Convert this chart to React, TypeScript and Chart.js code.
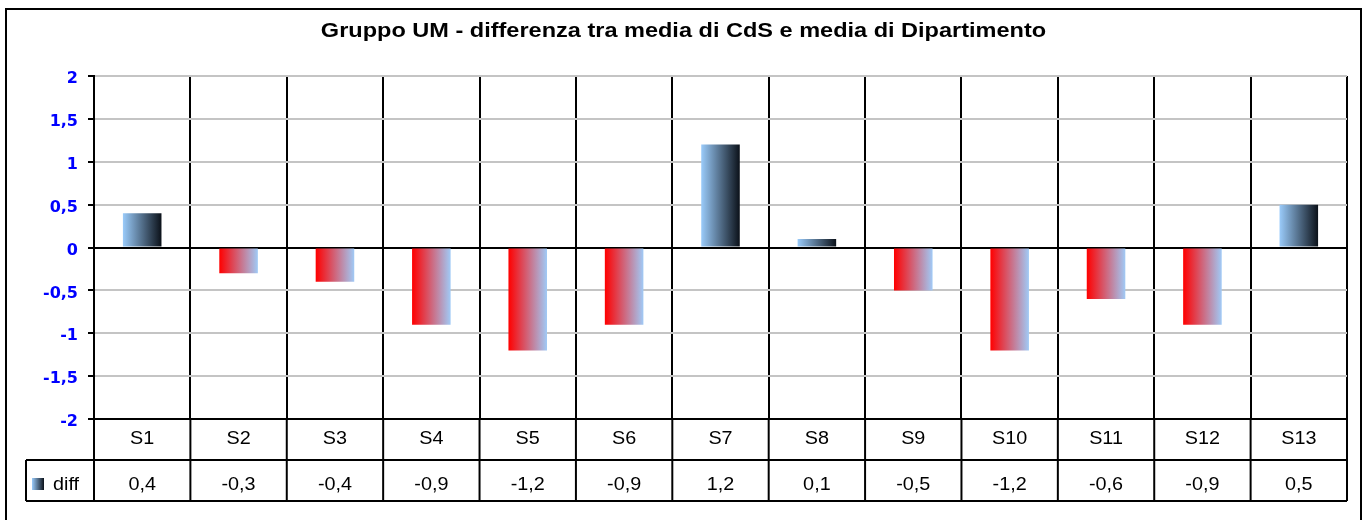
import React, { useEffect, useRef } from "react";
import { Chart, registerables } from "chart.js";

Chart.register(...registerables);

const TITLE = "Gruppo UM - differenza tra media di CdS e media di Dipartimento";
const CATEGORIES = ["S1", "S2", "S3", "S4", "S5", "S6", "S7", "S8", "S9", "S10", "S11", "S12", "S13"];
const SERIES_NAME = "diff";
const DIFF_VALUES = [0.4, -0.3, -0.4, -0.9, -1.2, -0.9, 1.2, 0.1, -0.5, -1.2, -0.6, -0.9, 0.5];
const Y_MIN = -2;
const Y_MAX = 2;
const Y_STEP = 0.5;

const fmt = (v: number) => String(Math.round(v * 10) / 10).replace(".", ",");

const POS_STOPS = ["#9ACBFA", "#0B1119"];
const NEG_STOPS = ["#FF0000", "#A0CAF6"];
const BAR_PCT = 0.4;
const TABLE_ROW = 41;
const TABLE_LEFT = 26;
const TABLE_STRETCH = 1.1;
const TITLE_STRETCH = 1.12;
const TABLE_FONT = "18px 'Liberation Sans', Arial, sans-serif";
const TITLE_FONT = "bold 21px 'Liberation Sans', Arial, sans-serif";

function stretchedText(
  ctx: CanvasRenderingContext2D,
  text: string,
  x: number,
  y: number,
  align: CanvasTextAlign,
  k: number
) {
  ctx.save();
  ctx.translate(x, y);
  ctx.scale(k, 1);
  ctx.textAlign = align;
  ctx.fillText(text, 0, 0);
  ctx.restore();
}

const titlePlugin = {
  id: "stretchedTitle",
  afterDraw(chart: any) {
    const ctx = chart.ctx as CanvasRenderingContext2D;
    ctx.save();
    ctx.fillStyle = "#000";
    ctx.font = TITLE_FONT;
    ctx.textBaseline = "alphabetic";
    stretchedText(ctx, TITLE, 683.5, 36.5, "center", TITLE_STRETCH);
    ctx.restore();
  },
};

const tablePlugin = {
  id: "dataTable",
  afterDraw(chart: any) {
    const ctx = chart.ctx as CanvasRenderingContext2D;
    const area = chart.chartArea;
    const xs = chart.scales.x;
    const n = CATEGORIES.length;
    const cw = (area.right - area.left) / n;
    const top = area.bottom;
    const mid = top + TABLE_ROW;
    const bot = top + TABLE_ROW * 2;
    ctx.save();
    ctx.strokeStyle = "#000";
    ctx.lineWidth = 2;
    const line = (x1: number, y1: number, x2: number, y2: number) => {
      ctx.beginPath();
      ctx.moveTo(x1, y1);
      ctx.lineTo(x2, y2);
      ctx.stroke();
    };
    for (let i = 0; i <= n; i++) {
      const xx = area.left + i * cw;
      line(xx, top, xx, bot);
    }
    line(TABLE_LEFT, mid, area.right, mid);
    line(TABLE_LEFT, bot, area.right, bot);
    line(TABLE_LEFT, mid, TABLE_LEFT, bot);

    ctx.fillStyle = "#000";
    ctx.font = TABLE_FONT;
    ctx.textBaseline = "alphabetic";
    CATEGORIES.forEach((c, i) => {
      const cx = xs.getPixelForValue(i);
      stretchedText(ctx, c, cx, top + 24.5, "center", TABLE_STRETCH);
      stretchedText(ctx, fmt(DIFF_VALUES[i]), cx, mid + 30, "center", TABLE_STRETCH);
    });
    // legend key
    const g = ctx.createLinearGradient(32, 0, 44, 0);
    g.addColorStop(0, POS_STOPS[0]);
    g.addColorStop(1, POS_STOPS[1]);
    ctx.fillStyle = g;
    ctx.fillRect(32, mid + 18, 12, 12);
    ctx.fillStyle = "#000";
    stretchedText(ctx, SERIES_NAME, 53, mid + 30, "left", TABLE_STRETCH);

    // outer frame
    ctx.lineWidth = 2;
    ctx.strokeRect(6, 9, 1355, 530);
    ctx.restore();
  },
};

export default function App() {
  const ref = useRef<HTMLCanvasElement | null>(null);
  useEffect(() => {
    document.body.style.margin = "0";
    const canvas = ref.current!;
    const n = CATEGORIES.length;
    const chart = new Chart(canvas, {
      type: "bar",
      data: {
        labels: CATEGORIES,
        datasets: [
          {
            label: SERIES_NAME,
            data: DIFF_VALUES,
            barPercentage: BAR_PCT,
            categoryPercentage: 1,
            borderWidth: 0,
            backgroundColor: (c: any) => {
              const ch = c.chart;
              const xs = ch.scales?.x;
              const area = ch.chartArea;
              const v = DIFF_VALUES[c.dataIndex ?? 0];
              const stops = v >= 0 ? POS_STOPS : NEG_STOPS;
              if (!xs || !area || c.dataIndex === undefined) return stops[0];
              const cx = xs.getPixelForValue(c.dataIndex);
              const w = ((area.right - area.left) / n) * BAR_PCT;
              const g = ch.ctx.createLinearGradient(cx - w / 2, 0, cx + w / 2, 0);
              g.addColorStop(0, stops[0]);
              g.addColorStop(1, stops[1]);
              return g;
            },
          },
        ],
      },
      options: {
        animation: false,
        responsive: false,
        events: [],
        layout: { padding: { left: 0, right: 18, top: 76, bottom: 19 } },
        plugins: {
          legend: { display: false },
          tooltip: { enabled: false },
          title: { display: false },
        },
        scales: {
          x: {
            offset: true,
            grid: { offset: true, color: "#000", lineWidth: 2, drawTicks: false },
            ticks: { display: false },
            border: { display: true, color: "#000", width: 2 },
            afterFit: (s: any) => {
              s.height = TABLE_ROW * 2;
            },
          },
          y: {
            min: Y_MIN,
            max: Y_MAX,
            ticks: {
              stepSize: Y_STEP,
              color: "#0000FF",
              padding: 10,
              labelOffset: 3,
              font: { family: "'DejaVu Sans', sans-serif", size: 16, weight: "bold" },
              callback: (v: any) => fmt(Number(v)),
            },
            grid: {
              color: (c: any) =>
                c.tick && (c.tick.value === 0 || c.tick.value === Y_MIN) ? "#000" : "#C4C4C4",
              lineWidth: 2,
              tickLength: 6,
              tickColor: "#000",
            },
            border: { display: true, color: "#000", width: 2 },
            afterFit: (s: any) => {
              s.width = 94;
            },
          },
        },
      },
      plugins: [tablePlugin, titlePlugin],
    });
    return () => chart.destroy();
  }, []);
  return (
    <div style={{ width: 1365, height: 520, background: "#fff" }}>
      <canvas ref={ref} width={1365} height={520} style={{ display: "block" }} />
    </div>
  );
}
